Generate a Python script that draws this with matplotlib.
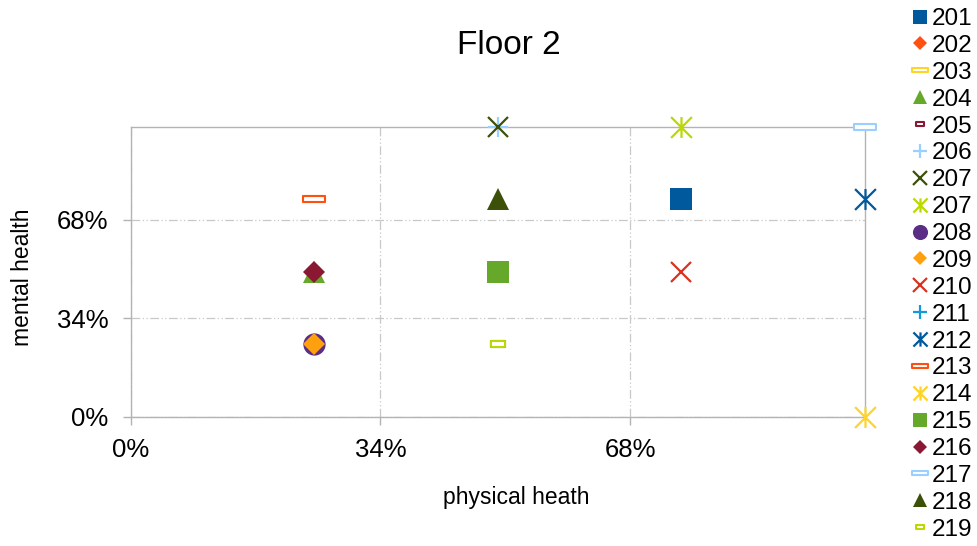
import matplotlib
matplotlib.use("Agg")
import matplotlib.pyplot as plt
from matplotlib.path import Path
from matplotlib.ticker import FuncFormatter

plt.rcParams['font.family'] = ['Liberation Sans', 'DejaVu Sans']

# rooms, in series order (later series are drawn on top)
rooms = ['201', '202', '203', '204', '205', '206', '207', '207', '208', '209',
         '210', '211', '212', '213', '214', '215', '216', '217', '218', '219']
physical = [0.75, 0.25, 0.25, 0.25, 0.50, 0.50, 0.50, 0.75, 0.25, 0.25,
            0.75, 0.50, 1.00, 0.25, 1.00, 0.50, 0.25, 1.00, 0.50, 0.50]
mental = [0.75, 0.25, 0.75, 0.50, 0.25, 1.00, 1.00, 1.00, 0.25, 0.25,
          0.50, 0.50, 0.75, 0.75, 0.00, 0.50, 0.50, 1.00, 0.75, 0.25]
ticks = [0, 0.34, 0.68]

palette = ['#00599c', '#ff5011', '#ffd428', '#66a82a', '#8a1833', '#99d0ff',
           '#3d500a', '#bcd800', '#5a2d86', '#ffa10f', '#d9321f', '#1399e0']

# marker shapes
asterisk = Path([(-1, -1), (1, 1), (-1, 1), (1, -1), (0, -1), (0, 1)],
                [Path.MOVETO, Path.LINETO, Path.MOVETO, Path.LINETO,
                 Path.MOVETO, Path.LINETO])
bar_wide = Path([(-1, -0.27), (1, -0.27), (1, 0.27), (-1, 0.27), (-1, -0.27)],
                [Path.MOVETO, Path.LINETO, Path.LINETO, Path.LINETO, Path.CLOSEPOLY])
bar_small = Path([(-1, -0.5), (1, -0.5), (1, 0.5), (-1, 0.5), (-1, -0.5)],
                 [Path.MOVETO, Path.LINETO, Path.LINETO, Path.LINETO, Path.CLOSEPOLY])

styles = {
    's': dict(marker='s', ms=15.5, mew=0),
    'D': dict(marker='D', ms=11, mew=0),
    '^': dict(marker='^', ms=15.5, mew=0),
    'o': dict(marker='o', ms=16, mew=0),
    '+': dict(marker='+', ms=15, mew=1.6),
    'x': dict(marker='x', ms=15, mew=1.6),
    '*': dict(marker=asterisk, ms=15, mew=1.6, mfc='none'),
    '=': dict(marker=bar_wide, ms=16, mew=1.5, mfc='white'),
    '-': dict(marker=bar_small, ms=9.5, mew=1.5, mfc='white'),
}
shapes = ['s', 'D', '=', '^', '-', '+', 'x', '*', 'o', 'D',
          'x', '+', '*', '=', '*', 's', 'D', '=', '^', '-']

fig = plt.figure(figsize=(9.77, 5.46), dpi=100)
ax = fig.add_axes([0.1338, 0.2363, 0.8854 - 0.1338, 0.7674 - 0.2363])

for i, room in enumerate(rooms):
    color = palette[i % len(palette)]
    st = dict(styles[shapes[i]])
    if st.get('mfc') is None:
        st['mfc'] = color
    ax.plot([physical[i]], [mental[i]], linestyle='none', color=color,
            mec=color, label=room, clip_on=False, zorder=3 + i * 0.01, **st)

ax.set_xlim(0, 1)
ax.set_ylim(0, 1)
ax.set_xticks(ticks)
ax.set_yticks(ticks)
pct = FuncFormatter(lambda v, p: f"{round(v * 100)}%")
ax.xaxis.set_major_formatter(pct)
ax.yaxis.set_major_formatter(pct)
ax.tick_params(axis='both', length=6, width=1, color='#b3b3b3',
               labelsize=18.5, pad=9)
ax.tick_params(axis='y', pad=10)
ax.grid(True, color='#c8c8c8', linewidth=0.9, linestyle=(0, (7, 2, 1, 2, 1, 2)))
ax.set_axisbelow(True)
for sp in ax.spines.values():
    sp.set_color('#b3b3b3')
    sp.set_linewidth(1.0)

fig.text(509 / 977, 1 - 54 / 546, 'Floor 2', fontsize=24, ha='center', va='baseline')
fig.text(516 / 977, 1 - 504 / 546, 'physical heath', fontsize=16.5, ha='center', va='baseline')
fig.text(29 / 977, 1 - 277 / 546, 'mental health', fontsize=16.5, rotation=90,
         rotation_mode='anchor', ha='center', va='baseline')

fig.legend(loc='upper left', bbox_to_anchor=(911 / 977, 1 - 8 / 546),
           frameon=False, fontsize=17.5, markerscale=0.68, handlelength=0.7,
           handletextpad=0.15, labelspacing=0.2, borderpad=0, borderaxespad=0)

fig.savefig('out.png', dpi=100)
